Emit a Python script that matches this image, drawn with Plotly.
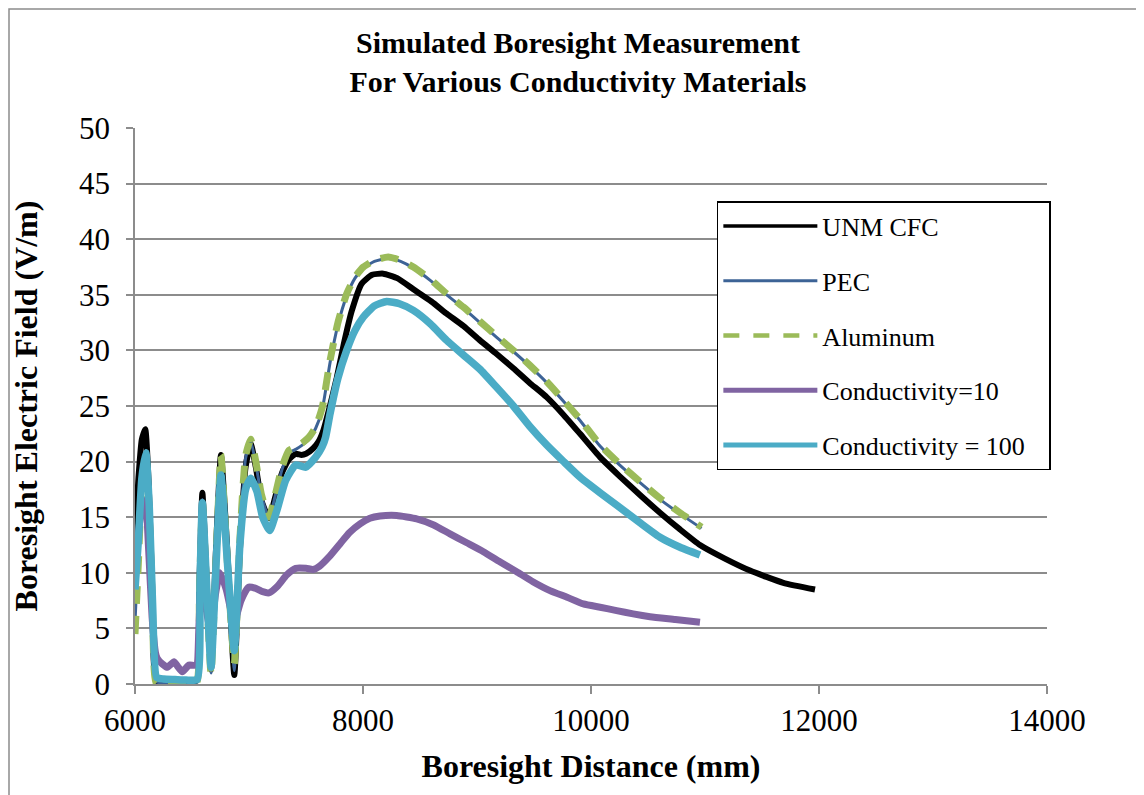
import plotly.graph_objects as go

# Boresight distance (mm) / field (V/m)
unm_x = [6000, 6030, 6060, 6090, 6120, 6150, 6185, 6250, 6350, 6450, 6540, 6565, 6591, 6630, 6667,
         6710, 6754, 6810, 6871, 6920, 6970, 7015, 7060, 7110, 7175, 7230, 7290, 7350, 7410, 7460,
         7500, 7564, 7610, 7652, 7700, 7769, 7830, 7900, 7988, 8080, 8178, 8300, 8442, 8600, 8734,
         8880, 9026, 9170, 9319, 9460, 9611, 9760, 9904, 10079, 10250, 10430, 10605, 10781, 10956,
         11170, 11395, 11687, 11965]
unm_y = [13.3, 18.5, 22.0, 22.9, 18.0, 9.0, 0.3, 0.2, 0.2, 0.2, 0.3, 9.0, 17.2, 9.0, 1.3,
         12.0, 20.6, 12.0, 0.8, 12.0, 19.5, 21.6, 19.5, 16.5, 14.9, 16.8, 19.0, 20.2, 20.7, 20.6,
         20.7, 21.2, 21.8, 22.8, 24.6, 27.5, 30.5, 33.5, 36.0, 36.8, 36.9, 36.5, 35.5, 34.4, 33.3,
         32.2, 30.9, 29.7, 28.4, 27.1, 25.8, 24.2, 22.5, 20.4, 18.7, 17.0, 15.4, 13.9, 12.5,
         11.3, 10.2, 9.1, 8.5]

al_x = [6000, 6030, 6060, 6095, 6125, 6155, 6185, 6250, 6350, 6450, 6540, 6565, 6591, 6630, 6667,
        6710, 6754, 6810, 6871, 6920, 6970, 7015, 7060, 7110, 7175, 7230, 7290, 7350, 7410, 7470,
        7526, 7585, 7643, 7711, 7780, 7857, 7930, 8003, 8100, 8221, 8330, 8442, 8590, 8734, 8880,
        9026, 9170, 9319, 9460, 9611, 9760, 9904, 10079, 10250, 10430, 10605, 10781, 10970]
al_y = [4.5, 11.0, 18.0, 20.6, 15.0, 6.0, 0.1, 0.0, 0.0, 0.0, 0.1, 8.0, 16.3, 8.0, 0.9,
        11.0, 20.6, 11.0, 1.8, 13.0, 20.5, 22.0, 20.0, 17.0, 15.0, 17.0, 19.5, 21.0, 21.3, 21.7,
        22.2, 23.1, 24.9, 29.1, 32.5, 35.1, 36.6, 37.5, 38.1, 38.4, 38.1, 37.5, 36.4, 35.1, 33.9,
        32.6, 31.3, 30.0, 28.7, 27.2, 25.5, 23.8, 21.5, 19.8, 18.2, 16.7, 15.4, 14.1]

pec_x = al_x
pec_y = [5.5, 12.5, 19.0, 21.0, 15.5, 6.5, 0.2, 0.1, 0.1, 0.1, 0.2, 8.5, 16.6, 8.5, 1.0,
         11.5, 20.4, 11.5, 1.2, 13.0, 20.3, 21.8, 19.8, 16.9, 14.9, 16.9, 19.3, 20.8, 21.1, 21.5,
         22.0, 23.0, 24.7, 28.9, 32.3, 34.9, 36.5, 37.4, 38.0, 38.3, 38.0, 37.4, 36.3, 35.0, 33.8,
         32.5, 31.2, 29.9, 28.6, 27.1, 25.4, 23.7, 21.4, 19.7, 18.1, 16.6, 15.3, 14.0]

c10_x = [6000, 6030, 6060, 6090, 6120, 6150, 6180, 6196, 6240, 6284, 6342, 6380, 6415, 6474, 6538,
         6560, 6580, 6620, 6665, 6705, 6745, 6800, 6870, 6930, 6994, 7060, 7120, 7175, 7250, 7330,
         7410, 7500, 7564, 7620, 7700, 7798, 7880, 7974, 8060, 8149, 8295, 8471, 8620, 8763, 8910,
         9056, 9200, 9348, 9490, 9640, 9790, 9933, 10080, 10225, 10370, 10518, 10740, 10956]
c10_y = [10.0, 13.5, 16.0, 16.5, 12.0, 6.0, 2.8, 2.3, 1.8, 1.5, 2.0, 1.5, 1.1, 1.7, 1.7,
         5.0, 9.0, 7.0, 4.5, 8.0, 10.0, 8.5, 5.6, 7.5, 8.7, 8.6, 8.3, 8.2, 8.8, 9.8,
         10.4, 10.4, 10.3, 10.6, 11.4, 12.6, 13.6, 14.4, 14.9, 15.1, 15.15, 14.85, 14.3, 13.5, 12.7,
         11.9, 11.0, 10.1, 9.2, 8.4, 7.8, 7.2, 6.9, 6.6, 6.3, 6.05, 5.8, 5.55]

c100_x = [6000, 6030, 6060, 6095, 6125, 6155, 6190, 6250, 6350, 6450, 6545, 6570, 6591, 6630, 6667,
          6710, 6754, 6810, 6871, 6920, 6970, 7015, 7070, 7120, 7181, 7250, 7321, 7410, 7497, 7585,
          7640, 7672, 7711, 7780, 7857, 7930, 8003, 8100, 8207, 8320, 8442, 8590, 8734, 8880, 9026,
          9170, 9319, 9460, 9611, 9760, 9904, 10079, 10250, 10430, 10605, 10781, 10956]
c100_y = [8.5, 13.0, 18.5, 20.8, 16.0, 7.0, 0.6, 0.45, 0.4, 0.35, 0.4, 9.0, 16.3, 8.5, 1.5,
          10.5, 18.8, 11.0, 3.0, 12.5, 17.5, 18.5, 17.3, 15.0, 13.8, 15.8, 18.3, 19.7, 19.5, 20.4,
          21.3, 22.2, 24.3, 27.5, 30.0, 31.8, 33.0, 34.0, 34.4, 34.2, 33.6, 32.4, 30.9, 29.6, 28.3,
          26.7, 25.0, 23.2, 21.5, 20.0, 18.6, 17.2, 15.9, 14.5, 13.2, 12.3, 11.6]

FONT = "Liberation Serif, Times New Roman, serif"
GRID = "#8c8c8c"
NB = "\u00a0"

fig = go.Figure()
# name, x, y, colour, plot width, legend width, dash
series = [
    ("UNM CFC", unm_x, unm_y, "#000000", 6, 3.5, "solid"),
    ("PEC", pec_x, pec_y, "#3d6396", 3, 3, "solid"),
    ("Aluminum", al_x, al_y, "#9bbb59", 7, 4.5, "18px,12px"),
    ("Conductivity=10", c10_x, c10_y, "#8064a2", 7, 5, "solid"),
    ("Conductivity = 100", c100_x, c100_y, "#4bacc6", 7.5, 5, "solid"),
]
for name, xs, ys, col, w, lw, dash in series:
    fig.add_trace(go.Scatter(x=xs, y=ys, mode="lines", name=name, showlegend=False,
                             line=dict(color=col, width=w, dash=dash, shape="spline", smoothing=0.5)))
# legend entries with the thinner sample lines of the original
for name, xs, ys, col, w, lw, dash in series:
    label = name + NB * 3 if name == "Conductivity = 100" else name
    fig.add_trace(go.Scatter(x=[None], y=[None], mode="lines", name=label, legendgroup=name,
                             line=dict(color=col, width=lw, dash="16px,14px" if dash != "solid" else dash)))

fig.update_layout(
    width=1136, height=787,
    margin=dict(l=127, r=97, t=120, b=111),
    paper_bgcolor="white", plot_bgcolor="white",
    font=dict(family=FONT, color="black"),
    title=dict(text="<b>Simulated Boresight Measurement<br>For Various Conductivity Materials</b>",
               x=(578 - 8) / 1136, xref="container", y=1 - 45 / 787, yref="container",
               xanchor="center", yanchor="middle", font=dict(size=30)),
    legend=dict(x=0.638, y=0.8687, xanchor="left", yanchor="top",
                bgcolor="white", bordercolor="black", borderwidth=1.5,
                font=dict(size=26), itemwidth=94, tracegroupgap=18),
    showlegend=True,
)
fig.update_xaxes(range=[6000, 14000], dtick=2000, tick0=6000, tickformat="d", showgrid=False,
                 showline=True, linecolor=GRID, linewidth=1.5, automargin=False,
                 ticks="outside", ticklen=8, tickcolor=GRID, tickwidth=1.5,
                 tickfont=dict(size=31), zeroline=False,
                 title=dict(text="<b>Boresight Distance (mm)</b>", font=dict(size=32), standoff=18))
fig.update_yaxes(range=[0, 50], dtick=5, tick0=0, showgrid=True, gridcolor=GRID, gridwidth=1.5,
                 showline=True, linecolor=GRID, linewidth=1.5, automargin=False,
                 ticks="outside", ticklen=7, tickcolor=GRID, tickwidth=1.5,
                 tickfont=dict(size=31), zeroline=False, ticklabelstandoff=10,
                 title=dict(text="<b>Boresight Electric Field (V/m)</b>", font=dict(size=32), standoff=32))

# chart-area frame (left and top edges visible)
fig.add_shape(type="rect", xref="paper", yref="paper",
              x0=(1 - 127) / 912, x1=(1160 - 127) / 912, y0=(676 - 810) / 556, y1=(676 - 1) / 556,
              line=dict(color="#8c8c8c", width=1.5), fillcolor="rgba(0,0,0,0)", layer="below")

fig.write_html("out.html")
